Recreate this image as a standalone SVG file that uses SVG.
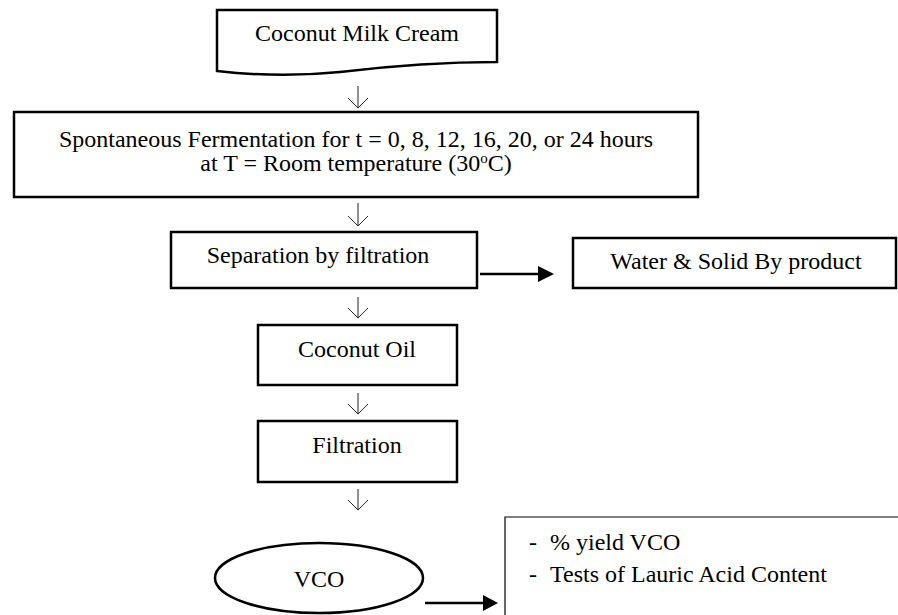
<svg xmlns="http://www.w3.org/2000/svg" width="898" height="615" viewBox="0 0 898 615">
<style>
.box{fill:#fff;stroke:#000;stroke-width:2.5}
.thin{fill:none;stroke:#000;stroke-width:1.2}
.t{font-family:"Liberation Serif","Times New Roman",serif;font-size:24px;fill:#000}
.m{text-anchor:middle}
.down{fill:none;stroke:#222;stroke-width:1}
.line{fill:none;stroke:#000;stroke-width:2.5}
.head{fill:#000}
</style>
<rect width="898" height="615" fill="#fff"/>
<g id="coconut-milk-cream">
<path class="box" d="M217,10 H497 V62 C440,62 390,66 340,72 C300,76 260,76 217,71 Z"/>
<text class="t m" x="357" y="41">Coconut Milk Cream</text>
</g>
<g id="fermentation">
<rect class="box" x="14" y="112" width="684" height="85"/>
<text class="t m" x="356" y="147">Spontaneous Fermentation for t = 0, 8, 12, 16, 20, or 24 hours</text>
<text class="t m" x="356" y="171">at T = Room temperature (30<tspan font-size="15" baseline-shift="super">o</tspan>C)</text>
</g>
<g id="separation">
<rect class="box" x="171" y="232" width="306" height="56"/>
<text class="t m" x="318" y="263">Separation by filtration</text>
</g>
<g id="water-solid">
<rect class="box" x="573" y="238" width="323" height="50"/>
<text class="t m" x="736" y="269">Water &amp; Solid By product</text>
</g>
<g id="coconut-oil">
<rect class="box" x="258" y="325" width="199" height="60"/>
<text class="t m" x="357" y="357">Coconut Oil</text>
</g>
<g id="filtration">
<rect class="box" x="258" y="421" width="199" height="61"/>
<text class="t m" x="357" y="453">Filtration</text>
</g>
<g id="vco">
<ellipse class="box" cx="319" cy="578" rx="104" ry="35"/>
<text class="t m" x="319" y="587">VCO</text>
</g>
<g id="results">
<path class="thin" d="M505,615 V517 H898"/>
<text class="t" x="529" y="550">-</text>
<text class="t" x="550" y="550">% yield VCO</text>
<text class="t" x="529" y="582">-</text>
<text class="t" x="550" y="582">Tests of Lauric Acid Content</text>
</g>
<g id="connectors">
<path class="down" d="M358,86 V108 M348,98 L358,108 L368,98"/>
<path class="down" d="M358,203 V226 M348,216 L358,226 L368,216"/>
<path class="down" d="M358,297 V318 M348,308 L358,318 L368,308"/>
<path class="down" d="M358,393 V414 M348,404 L358,414 L368,404"/>
<path class="down" d="M358,489 V510 M348,500 L358,510 L368,500"/>
<path class="line" d="M480,274 H540"/>
<polygon class="head" points="538,266 554,274 538,282"/>
<path class="line" d="M425,603 H485"/>
<polygon class="head" points="483,595 498,603 483,611"/>
</g>
</svg>
